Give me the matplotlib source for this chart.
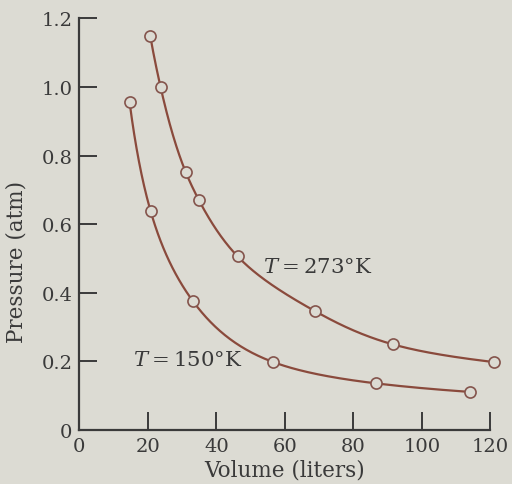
import numpy as np
import matplotlib
matplotlib.use("Agg")
import matplotlib.pyplot as plt

# ---- data ----
v_273 = [20.7, 23.7, 31.0, 34.9, 46.2, 68.7, 91.4, 121.0]
p_273 = [1.148, 1.00, 0.753, 0.670, 0.506, 0.347, 0.250, 0.198]
v_150 = [14.65, 20.8, 33.2, 56.6, 86.6, 114.1]
p_150 = [0.956, 0.638, 0.375, 0.198, 0.136, 0.111]
x_ticks = [0, 20, 40, 60, 80, 100, 120]
y_ticks = [0, 0.2, 0.4, 0.6, 0.8, 1.0, 1.2]
y_tick_labels = ["0", "0.2", "0.4", "0.6", "0.8", "1.0", "1.2"]
label_273 = r"$T=273$°K"
label_150 = r"$T=150$°K"

BG = "#dcdbd3"
LINE = "#8a4a3c"
MEDGE = "#84544c"
AX = "#3a3a3a"
TXT = "#3a3a3a"

plt.rcParams["font.family"] = ["DejaVu Serif"]
plt.rcParams["mathtext.fontset"] = "dejavuserif"


def smooth(xs, ys, n=300):
    """Natural cubic spline in log-log space through the data points."""
    lx = np.log(np.asarray(xs, float))
    ly = np.log(np.asarray(ys, float))
    m = len(lx)
    h = np.diff(lx)
    A = np.zeros((m, m))
    r = np.zeros(m)
    A[0, 0] = A[-1, -1] = 1.0
    for i in range(1, m - 1):
        A[i, i - 1] = h[i - 1]
        A[i, i] = 2 * (h[i - 1] + h[i])
        A[i, i + 1] = h[i]
        r[i] = 6 * ((ly[i + 1] - ly[i]) / h[i] - (ly[i] - ly[i - 1]) / h[i - 1])
    M = np.linalg.solve(A, r)
    xx = np.linspace(lx[0], lx[-1], n)
    idx = np.clip(np.searchsorted(lx, xx) - 1, 0, m - 2)
    x0, x1 = lx[idx], lx[idx + 1]
    hh = x1 - x0
    a = (x1 - xx) / hh
    b = (xx - x0) / hh
    yy = (a * ly[idx] + b * ly[idx + 1]
          + ((a ** 3 - a) * M[idx] + (b ** 3 - b) * M[idx + 1]) * hh ** 2 / 6)
    return np.exp(xx), np.exp(yy)


fig = plt.figure(figsize=(5.12, 4.85), dpi=100, facecolor=BG)
ax = fig.add_axes([0.155, 0.1113, 0.803, 0.8487], facecolor=BG)

for vs, ps in [(v_273, p_273), (v_150, p_150)]:
    sx, sy = smooth(vs, ps)
    ax.plot(sx, sy, color=LINE, lw=1.6, zorder=2, clip_on=False)
    ax.plot(vs, ps, ls="none", marker="o", ms=8, mfc=BG, mec=MEDGE,
            mew=1.2, zorder=3, clip_on=False)

ax.set_xlim(0, 120)
ax.set_ylim(0, 1.2)
ax.set_xticks(x_ticks)
ax.set_yticks(y_ticks)
ax.set_yticklabels(y_tick_labels)
for s in ["top", "right"]:
    ax.spines[s].set_visible(False)
for s in ["left", "bottom"]:
    ax.spines[s].set_color(AX)
    ax.spines[s].set_linewidth(1.6)
ax.tick_params(direction="in", length=13, width=1.4, color=AX,
               labelsize=14, labelcolor=TXT, pad=5)

ax.set_xlabel("Volume (liters)", fontsize=15.5, color=TXT)
ax.xaxis.set_label_coords(0.5, -0.07)
ax.set_ylabel("Pressure (atm)", fontsize=15.5, color=TXT)
ax.yaxis.set_label_coords(-0.125, 0.41)

ax.text(53.6, 0.478, label_273, fontsize=15.3, color=TXT,
        ha="left", va="center")
ax.text(15.6, 0.207, label_150, fontsize=15.3, color=TXT,
        ha="left", va="center")

fig.savefig("out.png", dpi=100, facecolor=BG)
